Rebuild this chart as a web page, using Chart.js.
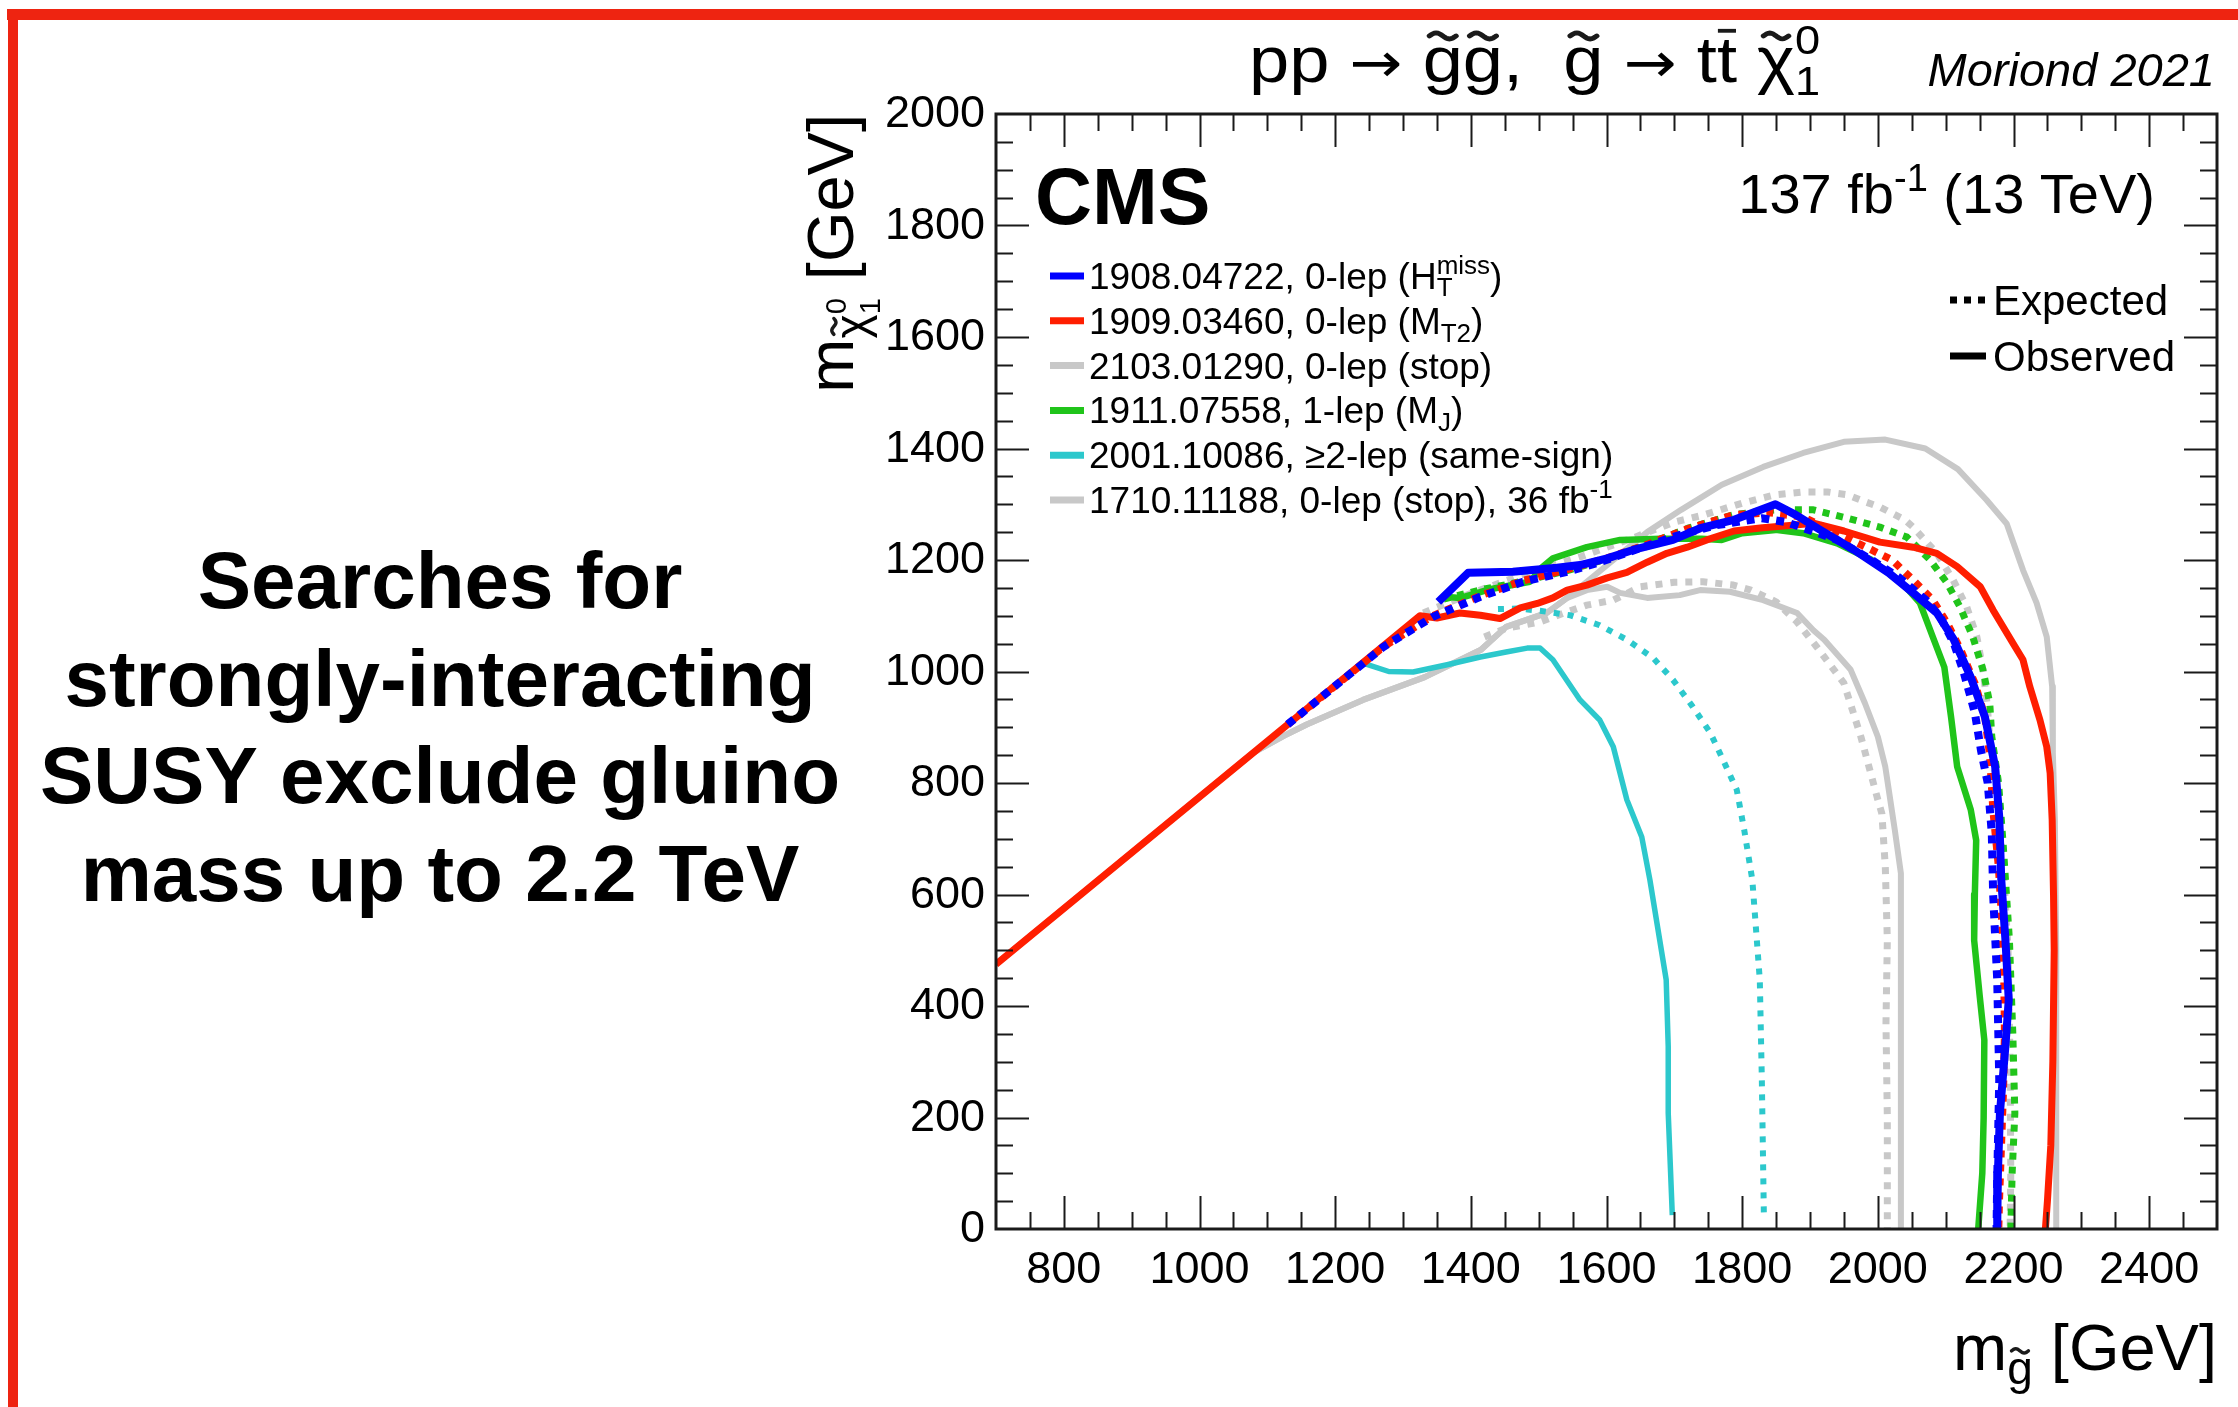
<!DOCTYPE html>
<html>
<head>
<meta charset="utf-8">
<script src="https://cdn.jsdelivr.net/npm/chart.js@4.4.1/dist/chart.umd.min.js"></script>
<style>
  html, body { margin: 0; padding: 0; background: #fff; }
  #limits { display: block; }
</style>
</head>
<body>
<canvas id="limits" width="2238" height="1407"></canvas>
<script>
// exclusion contours, points are [m_gluino, m_LSP] in GeV
const htMissObs = [[1352,1125],[1396,1177],[1462,1179],[1527,1186],[1561,1191],[1601,1203],[1639,1218],[1698,1236],[1738,1257],[1788,1272],[1849,1300],[1879,1281],[1915,1254],[1965,1218],[2016,1177],[2052,1141],[2087,1105],[2112,1057],[2137,990],[2158,918],[2173,829],[2179,739],[2182,626],[2188,520],[2193,411],[2188,327],[2180,208],[2177,100],[2176,0]];
const htMissExp = [[1130,905],[1271,1044],[1344,1098],[1414,1134],[1477,1161],[1542,1179],[1590,1196],[1649,1221],[1700,1242],[1760,1262],[1829,1275],[1865,1268],[1940,1236],[1991,1200],[2031,1169],[2071,1128],[2092,1098],[2112,1051],[2127,997],[2143,926],[2152,859],[2162,800],[2168,710],[2170,600],[2176,447],[2179,268],[2176,90],[2175,0]];
const mt2Obs = [[700,475],[1130,905],[1325,1100],[1350,1096],[1384,1105],[1414,1101],[1443,1095],[1473,1114],[1498,1122],[1521,1132],[1542,1146],[1571,1155],[1601,1168],[1630,1178],[1660,1196],[1689,1212],[1719,1223],[1748,1236],[1788,1252],[1830,1258],[1870,1262],[1905,1266],[1950,1252],[2003,1232],[2052,1223],[2087,1212],[2117,1188],[2151,1152],[2170,1110],[2199,1051],[2214,1021],[2224,973],[2239,913],[2249,865],[2254,818],[2257,734],[2259,600],[2260,500],[2258,300],[2255,150],[2250,50],[2247,0]];
const mt2Exp = [[1130,905],[1271,1044],[1344,1100],[1414,1136],[1477,1163],[1542,1183],[1600,1203],[1660,1228],[1720,1256],[1788,1281],[1840,1285],[1890,1277],[1940,1248],[1991,1218],[2021,1200],[2052,1164],[2081,1128],[2102,1087],[2122,1039],[2143,979],[2158,918],[2165,850],[2170,750],[2178,650],[2183,550],[2186,450],[2187,350],[2185,250],[2182,150],[2179,50],[2178,0]];
const mjObs = [[1360,1134],[1385,1132],[1430,1148],[1487,1161],[1506,1188],[1521,1203],[1571,1223],[1620,1236],[1680,1238],[1740,1238],[1770,1236],[1800,1248],[1849,1254],[1890,1248],[1940,1230],[1991,1200],[2041,1152],[2062,1123],[2081,1062],[2098,1008],[2108,918],[2117,829],[2137,752],[2145,697],[2143,600],[2142,518],[2150,420],[2157,339],[2156,200],[2154,100],[2148,0]];
const mjExp = [[1360,1130],[1420,1148],[1477,1162],[1542,1181],[1600,1202],[1660,1228],[1720,1257],[1790,1282],[1850,1290],[1905,1290],[1955,1275],[2003,1259],[2043,1241],[2077,1200],[2102,1159],[2121,1116],[2140,1062],[2155,1003],[2165,943],[2168,883],[2178,800],[2185,686],[2194,518],[2199,350],[2202,208],[2198,100],[2196,0]];
const ssObs = [[1241,1015],[1279,1000],[1315,999],[1365,1012],[1414,1026],[1452,1035],[1483,1042],[1502,1042],[1521,1021],[1561,949],[1590,913],[1610,865],[1630,770],[1652,703],[1664,626],[1688,447],[1691,327],[1691,208],[1697,25]];
const ssExp = [[1440,1112],[1470,1113],[1502,1109],[1546,1101],[1590,1083],[1630,1057],[1669,1024],[1698,985],[1727,937],[1753,890],[1772,841],[1792,788],[1803,716],[1815,626],[1826,447],[1829,268],[1832,25]];
const stopObs = [[700,475],[1080,855],[1125,885],[1158,905],[1241,949],[1332,990],[1415,1039],[1452,1080],[1512,1105],[1542,1132],[1580,1170],[1620,1210],[1660,1250],[1710,1290],[1770,1335],[1831,1367],[1890,1392],[1950,1412],[2011,1416],[2070,1400],[2118,1363],[2160,1308],[2190,1265],[2214,1182],[2234,1123],[2249,1062],[2257,973],[2258,854],[2261,734],[2263,500],[2263,0]];
const stopExp = [[1330,1105],[1400,1140],[1480,1175],[1560,1205],[1640,1240],[1700,1268],[1741,1280],[1800,1302],[1849,1317],[1890,1322],[1926,1322],[1955,1317],[1980,1305],[2003,1295],[2040,1272],[2052,1259],[2087,1212],[2111,1164],[2131,1116],[2146,1062],[2155,1003],[2161,943],[2165,883],[2175,800],[2185,650],[2192,500],[2195,300],[2196,100],[2195,0]];
const stop36Obs = [[700,475],[1080,855],[1125,885],[1158,905],[1241,949],[1332,990],[1415,1039],[1452,1080],[1512,1105],[1542,1132],[1571,1146],[1601,1152],[1620,1141],[1660,1132],[1708,1137],[1738,1146],[1782,1143],[1831,1128],[1881,1105],[1905,1074],[1921,1057],[1960,1003],[1981,943],[2000,883],[2011,829],[2014,805],[2025,716],[2034,638],[2034,400],[2034,0]];
const stop36Exp = [[1420,1062],[1453,1078],[1477,1083],[1502,1089],[1542,1107],[1571,1119],[1610,1128],[1650,1152],[1700,1160],[1742,1161],[1787,1155],[1813,1146],[1850,1125],[1880,1090],[1910,1044],[1950,979],[1975,883],[2000,770],[2006,745],[2011,650],[2014,518],[2012,370],[2014,200],[2014,0]];

// axes
const xRange = [700, 2500];
const yRange = [0, 2000];
const xTickLabels = ['800','1000','1200','1400','1600','1800','2000','2200','2400'];
const yTickLabels = ['0','200','400','600','800','1000','1200','1400','1600','1800','2000'];

const BLUE = '#0000ff', RED = '#ff1e00', GREY = '#c8c8c8', GREEN = '#20c41a', CYAN = '#2cc8cc';
const FONT = '"Liberation Sans", Arial, Helvetica, sans-serif';
const ARROW = '"DejaVu Sans", sans-serif';

const pts = arr => arr.map(p => ({ x: p[0], y: p[1] }));

// bottom first, top last
const curves = [
  { data: stopExp,   color: GREY,  width: 7, dash: [7, 8] },
  { data: stopObs,   color: GREY,  width: 6 },
  { data: stop36Exp, color: GREY,  width: 7, dash: [7, 8] },
  { data: stop36Obs, color: GREY,  width: 6 },
  { data: ssExp,     color: CYAN,  width: 6, dash: [6, 8] },
  { data: ssObs,     color: CYAN,  width: 5.5 },
  { data: mjExp,     color: GREEN, width: 7, dash: [7, 7] },
  { data: mjObs,     color: GREEN, width: 6.5 },
  { data: mt2Obs,    color: RED,   width: 7 },
  { data: mt2Exp,    color: RED,   width: 7.5, dash: [7, 7] },
  { data: htMissExp, color: BLUE,  width: 8, dash: [8, 7] },
  { data: htMissObs, color: BLUE,  width: 8 }
];

const datasets = curves.map((c, i) => ({
  data: pts(c.data),
  showLine: true,
  borderColor: c.color,
  borderWidth: c.width,
  borderDash: c.dash || [],
  borderJoinStyle: 'round',
  pointRadius: 0,
  order: curves.length - i
}));

const legendRows = [
  { color: BLUE,  parts: [{ t: '1908.04722, 0-lep (H' }, { sup: 'miss', sub: 'T', size: 26, supDy: -15, subDy: 7 }, { t: ')' }] },
  { color: RED,   parts: [{ t: '1909.03460, 0-lep (M' }, { t: 'T2', size: 26, dy: 8 }, { t: ')' }] },
  { color: GREY,  parts: [{ t: '2103.01290, 0-lep (stop)' }] },
  { color: GREEN, parts: [{ t: '1911.07558, 1-lep (M' }, { t: 'J', size: 26, dy: 8 }, { t: ')' }] },
  { color: CYAN,  parts: [{ t: '2001.10086, \u22652-lep (same-sign)' }] },
  { color: GREY,  parts: [{ t: '1710.11188, 0-lep (stop), 36 fb' }, { t: '-1', size: 26, dy: -15 }] }
];

function fontOf(s, size) {
  return (s.italic ? 'italic ' : '') + (s.bold ? 'bold ' : '') + (s.size || size) + 'px ' + (s.face || FONT);
}

function segWidth(ctx, s, size) {
  ctx.font = fontOf(s, size);
  if (s.sup !== undefined) return Math.max(ctx.measureText(s.sup).width, ctx.measureText(s.sub).width);
  return ctx.measureText(s.t).width;
}

function tilde(ctx, cx, cy, w, lw) {
  ctx.save();
  ctx.lineWidth = lw;
  ctx.lineCap = 'round';
  ctx.beginPath();
  for (let i = 0; i <= 16; i++) {
    const t = i / 16;
    const x = cx - w / 2 + w * t;
    const y = cy - w * 0.13 * Math.sin(2 * Math.PI * t);
    if (i === 0) ctx.moveTo(x, y); else ctx.lineTo(x, y);
  }
  ctx.stroke();
  ctx.restore();
}

// draws a run of text pieces with sub/superscripts and accents, returns width
function rich(ctx, parts, x, y, size, align) {
  let total = 0;
  parts.forEach(s => { total += segWidth(ctx, s, size); });
  let cx = align === 'right' ? x - total : x;
  ctx.textAlign = 'left';
  ctx.textBaseline = 'alphabetic';
  parts.forEach(s => {
    const w = segWidth(ctx, s, size);
    const sz = s.size || size;
    ctx.font = fontOf(s, size);
    if (s.sup !== undefined) {
      ctx.fillText(s.sup, cx, y + s.supDy);
      ctx.fillText(s.sub, cx, y + s.subDy);
    } else {
      const dy = s.dy || 0;
      ctx.fillText(s.t, cx, y + dy);
      if (s.mark === 'tilde') tilde(ctx, cx + w / 2, y + dy - sz * 0.72, w * 0.66, sz * 0.075);
      if (s.mark === 'bar') {
        ctx.save();
        ctx.lineWidth = sz * 0.06;
        ctx.beginPath();
        ctx.moveTo(cx + w * 0.05, y + dy - sz * 0.8);
        ctx.lineTo(cx + w * 0.95, y + dy - sz * 0.8);
        ctx.stroke();
        ctx.restore();
      }
    }
    cx += w;
  });
  return total;
}

const decorations = {
  id: 'decorations',
  beforeDraw(chart) {
    const ctx = chart.ctx;
    ctx.save();
    ctx.fillStyle = '#fff';
    ctx.fillRect(0, 0, chart.width, chart.height);
    // slide border
    ctx.fillStyle = '#ee2411';
    ctx.fillRect(7, 9, chart.width - 7, 11);
    ctx.fillRect(8, 9, 10, chart.height - 9);
    // slide text
    ctx.fillStyle = '#000';
    ctx.font = 'bold 80px ' + FONT;
    ctx.textAlign = 'center';
    ctx.textBaseline = 'alphabetic';
    ['Searches for', 'strongly-interacting', 'SUSY exclude gluino', 'mass up to 2.2 TeV']
      .forEach((line, i) => ctx.fillText(line, 440, 608 + i * 97.5));
    ctx.restore();
  },
  afterDraw(chart) {
    const ctx = chart.ctx;
    const a = chart.chartArea;
    const xs = chart.scales.x, ys = chart.scales.y;
    ctx.save();
    ctx.strokeStyle = '#1a1a1a';
    ctx.fillStyle = '#000';

    // ticks on all four sides, pointing inwards
    ctx.lineWidth = 2;
    ctx.beginPath();
    for (let v = xRange[0] + 50; v < xRange[1]; v += 50) {
      const px = Math.round(xs.getPixelForValue(v)) + 0.5;
      const len = v % 200 === 0 ? 33 : 17;
      ctx.moveTo(px, a.bottom); ctx.lineTo(px, a.bottom - len);
      ctx.moveTo(px, a.top); ctx.lineTo(px, a.top + len);
    }
    for (let v = yRange[0] + 50; v < yRange[1]; v += 50) {
      const py = Math.round(ys.getPixelForValue(v)) + 0.5;
      const len = v % 200 === 0 ? 33 : 17;
      ctx.moveTo(a.left, py); ctx.lineTo(a.left + len, py);
      ctx.moveTo(a.right, py); ctx.lineTo(a.right - len, py);
    }
    ctx.stroke();
    ctx.lineWidth = 3;
    ctx.strokeRect(a.left, a.top, a.right - a.left, a.bottom - a.top);

    // tick labels
    ctx.font = '45px ' + FONT;
    ctx.textAlign = 'center';
    ctx.textBaseline = 'alphabetic';
    xTickLabels.forEach(l => ctx.fillText(l, xs.getPixelForValue(+l), a.bottom + 54));
    ctx.textAlign = 'right';
    ctx.textBaseline = 'middle';
    yTickLabels.forEach(l => ctx.fillText(l, a.left - 11, ys.getPixelForValue(+l) + 1));

    // axis titles
    rich(ctx, [{ t: 'm' }, { t: 'g', size: 46, dy: 14, mark: 'tilde' }, { t: ' [GeV]' }], a.right, 1370, 65, 'right');
    ctx.save();
    const yParts = [{ t: 'm' }, { t: '\u03c7', size: 46, dy: 14, mark: 'tilde' },
      { sup: '0', sub: '1', size: 29, supDy: -7, subDy: 27 }, { t: ' [GeV]' }];
    let yw = 0;
    yParts.forEach(s => { yw += segWidth(ctx, s, 65); });
    ctx.translate(853, a.top + yw);
    ctx.rotate(-Math.PI / 2);
    rich(ctx, yParts, 0, 0, 65, 'left');
    ctx.restore();

    // process line, drawn a little wider than the font
    ctx.save();
    ctx.translate(1249, 82);
    ctx.scale(1.13, 1);
    rich(ctx, [{ t: 'pp ' }, { t: '\u2192', face: ARROW, size: 56 }, { t: ' ' }, { t: 'g', mark: 'tilde' }, { t: 'g', mark: 'tilde' }, { t: ',  ' },
      { t: 'g', mark: 'tilde' }, { t: ' ' }, { t: '\u2192', face: ARROW, size: 56 }, { t: ' t' }, { t: 't', mark: 'bar' }, { t: ' ' },
      { t: '\u03c7', mark: 'tilde' }, { sup: '0', sub: '1', size: 40, supDy: -28, subDy: 13 }], 0, 0, 64, 'left');
    ctx.restore();
    rich(ctx, [{ t: 'Moriond 2021', italic: true }], 2215, 86, 47, 'right');

    // labels inside the frame
    ctx.font = 'bold 79px ' + FONT;
    ctx.textAlign = 'left';
    ctx.textBaseline = 'alphabetic';
    ctx.fillText('CMS', 1035, 224);
    rich(ctx, [{ t: '137 fb' }, { t: '-1', size: 38, dy: -22 }, { t: ' (13 TeV)' }], 2155, 213, 56, 'right');

    // analysis legend
    legendRows.forEach((r, i) => {
      const cy = 276 + i * 44.8;
      ctx.strokeStyle = r.color;
      ctx.lineWidth = 7;
      ctx.beginPath();
      ctx.moveTo(1050, cy); ctx.lineTo(1084, cy);
      ctx.stroke();
      ctx.fillStyle = '#000';
      rich(ctx, r.parts, 1089, cy + 13, 37, 'left');
    });

    // line style legend
    ctx.strokeStyle = '#000';
    ctx.lineWidth = 7;
    ctx.setLineDash([7, 7]);
    ctx.beginPath(); ctx.moveTo(1950, 300); ctx.lineTo(1986, 300); ctx.stroke();
    ctx.setLineDash([]);
    ctx.beginPath(); ctx.moveTo(1950, 356); ctx.lineTo(1986, 356); ctx.stroke();
    rich(ctx, [{ t: 'Expected' }], 1993, 315, 42, 'left');
    rich(ctx, [{ t: 'Observed' }], 1993, 371, 42, 'left');
    ctx.restore();
  }
};

new Chart(document.getElementById('limits'), {
  type: 'scatter',
  data: { datasets },
  options: {
    responsive: false,
    animation: false,
    devicePixelRatio: 1,
    layout: { padding: { left: 996, top: 114, right: 21, bottom: 178 } },
    scales: {
      x: { type: 'linear', min: xRange[0], max: xRange[1], display: false },
      y: { type: 'linear', min: yRange[0], max: yRange[1], display: false }
    },
    plugins: { legend: { display: false }, tooltip: { enabled: false } },
    elements: { line: { tension: 0 }, point: { radius: 0 } }
  },
  plugins: [decorations]
});
</script>
</body>
</html>
